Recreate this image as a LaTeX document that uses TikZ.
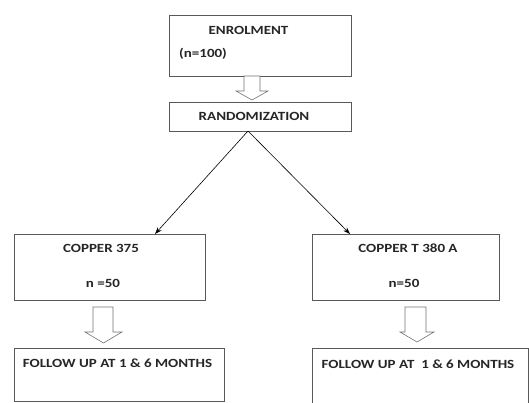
\documentclass[tikz,border=0pt]{standalone}
\usepackage{fontspec}
\setmainfont{Carlito}
\newfontfamily\boxfont[FakeStretch=1.2]{Carlito}
\usetikzlibrary{arrows.meta,calc}
\begin{document}
\begin{tikzpicture}[x=1pt,y=-1pt,
  box/.style={draw=black!65,line width=0.8pt,fill=white},
  lbl/.style={font=\boxfont\bfseries\fontsize{12.5}{14}\selectfont,text=black!85,inner sep=0pt},
  blockarrow/.style={draw=black!55,line width=0.6pt,fill=white},
  conn/.style={draw=black,line width=0.6pt,-{Stealth[length=7pt,width=5pt]}}]
\useasboundingbox (0,0) rectangle (529,403);
\clip (0,0) rectangle (529,403);
% boxes
\draw[box] (169,15) rectangle (351,76);
\node[lbl] (t1) at (248.5,30) {ENROLMENT};
\node[lbl,anchor=west] (t2) at (179,54) {(n=100)};
\draw[box] (169,102) rectangle (351,131);
\node[lbl] (t3) at (254,116) {RANDOMIZATION};
\coordinate (rb) at (248,131);
\draw[box] (14,234) rectangle (205,300);
\node[lbl] (t4) at (101,248) {COPPER 375};
\node[lbl] (t5) at (103,283) {n =50};
\coordinate (lt) at (155,234);
\draw[box] (312,234) rectangle (499,300);
\node[lbl] (t6) at (408,248) {COPPER T 380 A};
\node[lbl] (t7) at (404,283) {n=50};
\coordinate (rt) at (350,234);
\draw[box] (14,348) rectangle (224,401.5);
\node[lbl] (t8) at (117.5,363) {FOLLOW UP AT 1 \& 6 MONTHS};
\draw[box] (312,410) -- (312,348) -- (528,348) -- (528,410);
\node[lbl] (t9) at (418,364) {FOLLOW UP AT\ \ 1 \& 6 MONTHS};
% block arrows
\draw[blockarrow] (244,76) -- (260,76) -- (260,91) -- (268,91) -- (252,100) -- (236,91) -- (244,91) -- cycle;
\draw[blockarrow] (93,307) -- (113,307) -- (113,332) -- (122,332) -- (103.5,343) -- (85,332) -- (93,332) -- cycle;
\draw[blockarrow] (405,307) -- (426,307) -- (426,332) -- (434,332) -- (417,342) -- (400,332) -- (405,332) -- cycle;
% connectors
\draw[conn] (rb) -- (lt);
\draw[conn] (rb) -- (rt);
\end{tikzpicture}
\end{document}
